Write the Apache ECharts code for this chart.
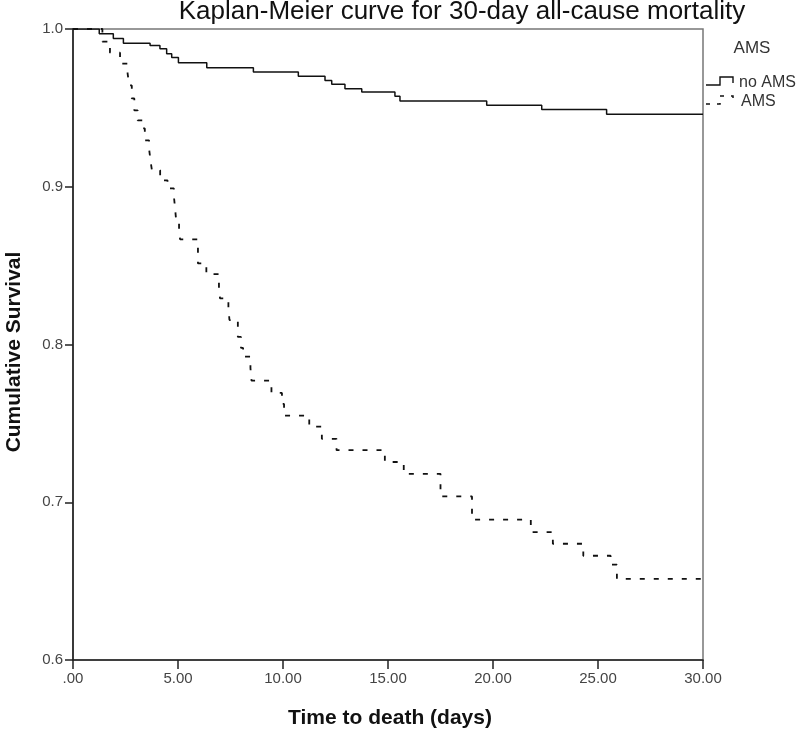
<!DOCTYPE html>
<html>
<head>
<meta charset="utf-8">
<script src="https://cdn.jsdelivr.net/npm/echarts@6/dist/echarts.min.js"></script>
<style>
html,body{margin:0;padding:0;background:#fff;}
#chart{width:800px;height:733px;}
</style>
</head>
<body>
<div id="chart"></div>
<script>
const chartTitle = 'Kaplan-Meier curve for 30-day all-cause mortality';
const xTitle = 'Time to death (days)';
const yTitle = 'Cumulative Survival';
const legendTitle = 'AMS';
const seriesNames = ['no AMS', 'AMS'];

const xTicks = [0, 5, 10, 15, 20, 25, 30];
const xTickLabels = ['.00', '5.00', '10.00', '15.00', '20.00', '25.00', '30.00'];
const yTickLabels = ['0.6', '0.7', '0.8', '0.9', '1.0'];

const noAmsTime = [0, 1.25, 1.92, 2.40, 3.67, 4.14, 4.46, 4.70, 5.02, 6.37, 8.59, 10.73, 12.0, 12.32, 12.95, 13.75, 15.33, 15.57, 19.70, 22.32, 25.41, 30];
const noAmsSurv = [1.0, 0.997, 0.994, 0.991, 0.9896, 0.9875, 0.9843, 0.982, 0.9786, 0.9754, 0.9727, 0.970, 0.9674, 0.9649, 0.9621, 0.960, 0.9573, 0.9543, 0.9516, 0.9489, 0.946, 0.946];

const amsTime = [0, 1.4, 1.76, 2.24, 2.6, 2.68, 2.8, 2.92, 3.08, 3.3, 3.42, 3.62, 3.7, 3.76, 4.15, 4.5, 4.8, 4.86, 4.92, 5.05, 5.1, 5.95, 6.35, 6.95, 7.0, 7.4, 7.45, 7.85, 8.0, 8.1, 8.45, 8.5, 9.45, 9.95, 10.05, 11.25, 11.85, 12.55, 14.85, 15.75, 17.5, 19.0, 21.8, 22.85, 24.3, 25.6, 25.9, 30];
const amsSurv = [1.0, 0.992, 0.985, 0.978, 0.9718, 0.9642, 0.956, 0.9484, 0.9421, 0.937, 0.9294, 0.9244, 0.9155, 0.9104, 0.9041, 0.899, 0.8946, 0.8864, 0.8775, 0.8712, 0.8666, 0.8514, 0.8446, 0.8358, 0.8292, 0.8237, 0.8155, 0.8048, 0.7978, 0.7923, 0.7851, 0.7771, 0.7693, 0.7623, 0.7549, 0.748, 0.7402, 0.733, 0.7255, 0.718, 0.7037, 0.689, 0.6811, 0.6737, 0.6661, 0.6604, 0.6514, 0.6514];

const chart = echarts.init(document.getElementById('chart'), null, {renderer: 'canvas'});
const font = 'Liberation Sans, Arial, sans-serif';

const option = {
  backgroundColor: '#fff',
  animation: false,
  grid: {left: 73, right: 97, top: 29, bottom: 73, containLabel: false, show: true, borderColor: '#777', borderWidth: 1.5},
  xAxis: {
    type: 'value', min: 0, max: 30, interval: 5,
    axisLine: {show: true, onZero: false, lineStyle: {color: '#222', width: 1.6}},
    axisTick: {show: true, length: 9, lineStyle: {color: '#222', width: 1.5}},
    splitLine: {show: false},
    axisLabel: {color: '#444', fontFamily: font, fontSize: 15, margin: 11,
      formatter: v => { const i = xTicks.indexOf(v); return i >= 0 ? xTickLabels[i] : ''; }}
  },
  yAxis: {
    type: 'value', min: 0.6, max: 1.0, interval: 0.1,
    axisLine: {show: true, onZero: false, lineStyle: {color: '#222', width: 1.6}},
    axisTick: {show: true, length: 8, lineStyle: {color: '#222', width: 1.5}},
    splitLine: {show: false},
    axisLabel: {color: '#444', fontFamily: font, fontSize: 15, margin: 10,
      formatter: v => yTickLabels[Math.round((v - 0.6) * 10)] || ''}
  },
  series: [
    {
      name: seriesNames[0], type: 'line', step: 'end', showSymbol: false, symbol: 'none',
      data: noAmsTime.map((t, i) => [t, noAmsSurv[i]]),
      lineStyle: {color: '#111', width: 1.5}
    },
    {
      name: seriesNames[1], type: 'line', step: 'end', showSymbol: false, symbol: 'none',
      data: amsTime.map((t, i) => [t, amsSurv[i]]),
      lineStyle: {color: '#111', width: 1.8, type: [5, 9]}
    }
  ],
  graphic: [
    {type: 'text', style: {text: chartTitle, x: 462, y: 12, align: 'center', verticalAlign: 'middle', font: 'normal 26px ' + font, fill: '#111'}},
    {type: 'text', style: {text: xTitle, x: 390, y: 718, align: 'center', verticalAlign: 'middle', font: 'bold 21px ' + font, fill: '#111'}},
    {type: 'text', x: 14, y: 352, rotation: Math.PI / 2, style: {text: yTitle, x: 0, y: 0, align: 'center', verticalAlign: 'middle', font: 'bold 21px ' + font, fill: '#111'}},
    {type: 'text', style: {text: legendTitle, x: 752, y: 48, align: 'center', verticalAlign: 'middle', font: 'normal 17px ' + font, fill: '#333'}},
    {type: 'polyline', shape: {points: [[706, 85], [720, 85], [720, 77], [733, 77], [733, 83]]}, style: {stroke: '#111', lineWidth: 1.4, fill: null}},
    {type: 'text', style: {text: seriesNames[0], x: 739, y: 83, align: 'left', verticalAlign: 'middle', font: 'normal 16px ' + font, fill: '#333'}},
    {type: 'polyline', shape: {points: [[706, 104], [720, 104], [720, 96], [733, 96], [733, 102]]}, style: {stroke: '#111', lineWidth: 1.5, fill: null, lineDash: [4, 7]}},
    {type: 'text', style: {text: seriesNames[1], x: 741, y: 102, align: 'left', verticalAlign: 'middle', font: 'normal 16px ' + font, fill: '#333'}}
  ]
};
chart.setOption(option);
</script>
</body>
</html>
